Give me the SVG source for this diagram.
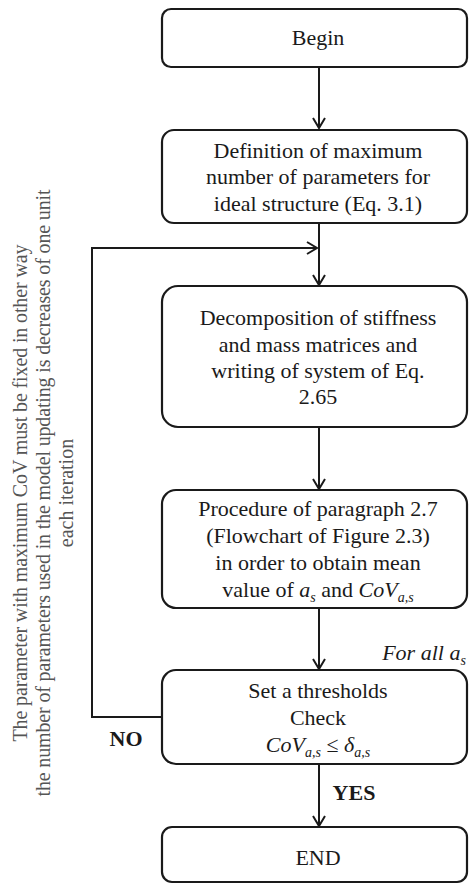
<svg xmlns="http://www.w3.org/2000/svg" width="469" height="884" viewBox="0 0 469 884">
  <defs>
    <marker id="arrow" viewBox="-12 -7 14 14" refX="0" refY="0" markerWidth="14" markerHeight="14" markerUnits="userSpaceOnUse" orient="auto">
      <path d="M-10,-6 L0,0 L-10,6" fill="none" stroke="#1a1a1a" stroke-width="2"/>
    </marker>
    <style>
      .box { fill: #ffffff; stroke: #1a1a1a; stroke-width: 2.2; }
      .conn { fill: none; stroke: #1a1a1a; stroke-width: 2; }
      .t { font-family: "Liberation Serif", "Times New Roman", serif; font-size: 22px; fill: #1a1a1a; text-anchor: middle; }
      .it { font-style: italic; }
      .sub { font-size: 14px; font-style: italic; }
      .b { font-weight: bold; }
      .note { font-family: "Liberation Serif", "Times New Roman", serif; font-size: 20px; fill: #555555; text-anchor: middle; }
    </style>
  </defs>

  <rect width="469" height="884" fill="#ffffff"/>

  <!-- connectors -->
  <g id="connectors">
    <line class="conn" x1="319" y1="67" x2="319" y2="128" marker-end="url(#arrow)"/>
    <line class="conn" x1="319" y1="223" x2="319" y2="285" marker-end="url(#arrow)"/>
    <line class="conn" x1="319" y1="427" x2="319" y2="489" marker-end="url(#arrow)"/>
    <line class="conn" x1="319" y1="608" x2="319" y2="669" marker-end="url(#arrow)"/>
    <line class="conn" x1="319" y1="764" x2="319" y2="826" marker-end="url(#arrow)"/>
    <polyline class="conn" points="162,717 92,717 92,248 317,248" marker-end="url(#arrow)"/>
    <text class="t b" x="126" y="746">NO</text>
    <text class="t b" x="354" y="800">YES</text>
    <text class="t it" x="424" y="660">For all a<tspan class="sub" dy="5">s</tspan></text>
  </g>

  <!-- start -->
  <g id="begin">
    <rect class="box" x="162" y="9" width="305" height="58" rx="9"/>
    <text class="t" x="318" y="45">Begin</text>
  </g>

  <g id="definition">
    <rect class="box" x="162" y="130" width="305" height="93" rx="12"/>
    <text class="t" x="318" y="158">Definition of maximum</text>
    <text class="t" x="318" y="184">number of parameters for</text>
    <text class="t" x="318" y="211">ideal structure (Eq. 3.1)</text>
  </g>

  <g id="decomposition">
    <rect class="box" x="162" y="286" width="305" height="141" rx="16"/>
    <text class="t" x="318" y="325">Decomposition of stiffness</text>
    <text class="t" x="318" y="352">and mass matrices and</text>
    <text class="t" x="318" y="378">writing of system of Eq.</text>
    <text class="t" x="318" y="404">2.65</text>
  </g>

  <g id="procedure">
    <rect class="box" x="162" y="490" width="305" height="118" rx="14"/>
    <text class="t" x="318" y="516">Procedure of paragraph 2.7</text>
    <text class="t" x="318" y="543">(Flowchart of Figure 2.3)</text>
    <text class="t" x="318" y="570">in order to obtain mean</text>
    <text class="t" x="318" y="597">value of <tspan class="it">a</tspan><tspan class="sub" dy="5">s</tspan><tspan dy="-5"> and </tspan><tspan class="it">CoV</tspan><tspan class="sub" dy="5">a,s</tspan></text>
  </g>

  <g id="check">
    <rect class="box" x="162" y="670" width="305" height="94" rx="14"/>
    <text class="t" x="318" y="698">Set a thresholds</text>
    <text class="t" x="318" y="725">Check</text>
    <text class="t" x="318" y="752"><tspan class="it">CoV</tspan><tspan class="sub" dy="5">a,s</tspan><tspan dy="-5"> ≤ </tspan><tspan class="it">δ</tspan><tspan class="sub" dy="5">a,s</tspan></text>
  </g>

  <g id="end">
    <rect class="box" x="162" y="827" width="305" height="55" rx="10"/>
    <text class="t" x="318" y="865">END</text>
  </g>

  <!-- note along the return path -->
  <g id="note">
    <text class="note" transform="translate(27,493) rotate(-90)" textLength="497" lengthAdjust="spacing">The parameter with maximum CoV must be fixed in other way</text>
    <text class="note" transform="translate(50,493) rotate(-90)" textLength="607" lengthAdjust="spacing">the number of parameters used in the model updating is decreases of one unit</text>
    <text class="note" transform="translate(73,493) rotate(-90)">each iteration</text>
  </g>
</svg>
